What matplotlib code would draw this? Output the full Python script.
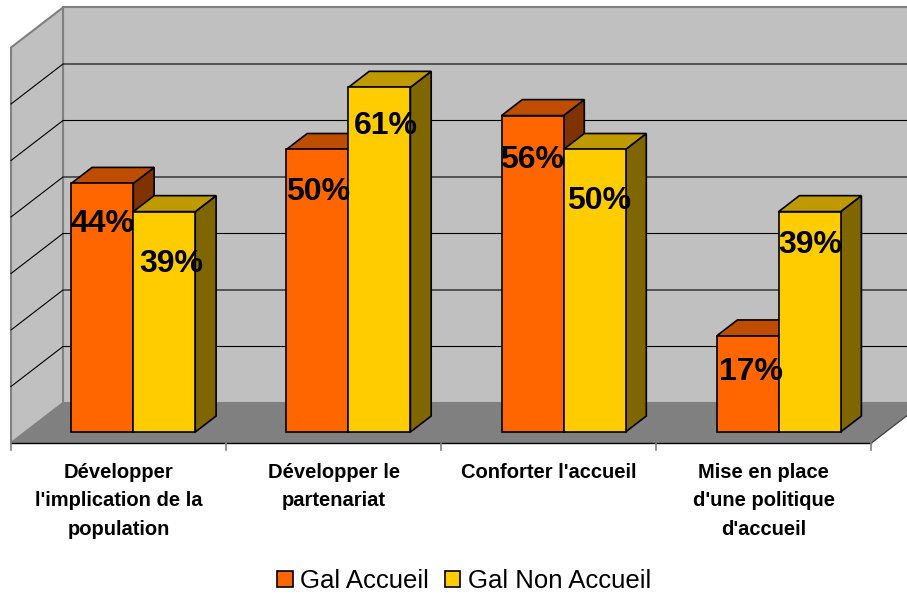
import matplotlib
matplotlib.use('Agg')
import matplotlib.pyplot as plt
from matplotlib.patches import Patch, Polygon

plt.rcParams['font.family'] = ['Liberation Sans', 'DejaVu Sans']

# ── Data ──────────────────────────────────────────────────────────────────────
categories = [
    "Développer\nl'implication de la\npopulation",
    "Développer le\npartenariat",
    "Conforter l'accueil",
    "Mise en place\nd'une politique\nd'accueil",
]
series_names = ['Gal Accueil', 'Gal Non Accueil']
accueil = [44, 50, 56, 17]
non_accueil = [39, 61, 50, 39]
value_ticks = [0, 10, 20, 30, 40, 50, 60, 70]

# ── Styles: (front, top, side) ────────────────────────────────────────────────
ORANGE = ('#FF6600', '#BF4D00', '#803300')
YELLOW = ('#FFCC00', '#BF9900', '#806600')
WALL = '#C0C0C0'
FLOOR = '#808080'

# pixel size of one category and of one percent
CAT_PX = 215.1
PCT_PX = 5.65
# oblique offset of the full depth, in data units
DEPTH_X = 52 / CAT_PX
DEPTH_Y = 40 / PCT_PX
BAR_D0, BAR_D1 = 0.275, 0.675
BAR_START = 46 / CAT_PX
BAR_W = 62 / CAT_PX

# label placement: x shift in categories, y drop in percent
ORANGE_LABEL = [(0.0, 7.1), (0.005, 7.5), (0.0, 7.9), (0.014, 6.4)]
YELLOW_LABEL = [(0.033, 9.2), (0.028, 6.8), (0.021, 9.2), (0.005, 5.9)]


def project(x, v, d):
    return (x + d * DEPTH_X, v + d * DEPTH_Y)


def draw_bar(ax, x0, value, colors):
    x1 = x0 + BAR_W
    front = [project(x0, 0, BAR_D0), project(x1, 0, BAR_D0),
             project(x1, value, BAR_D0), project(x0, value, BAR_D0)]
    top = [project(x0, value, BAR_D0), project(x1, value, BAR_D0),
           project(x1, value, BAR_D1), project(x0, value, BAR_D1)]
    side = [project(x1, 0, BAR_D0), project(x1, 0, BAR_D1),
            project(x1, value, BAR_D1), project(x1, value, BAR_D0)]
    for pts, c in zip((side, top, front), (colors[2], colors[1], colors[0])):
        ax.add_patch(Polygon(pts, closed=True, facecolor=c, edgecolor='black',
                             linewidth=1.2, joinstyle='miter', zorder=4))


fig = plt.figure(figsize=(9.07, 5.95), dpi=100)
ax = fig.add_axes([0, 0, 1, 1])
ax.set_xlim(-11 / CAT_PX, (907 - 11) / CAT_PX)
ax.set_ylim((443 - 595) / PCT_PX, 443 / PCT_PX)
ax.axis('off')

n = len(categories)
vmax = value_ticks[-1]
far = 2 * n  # back wall runs past the right edge, axes clip it

# ── Walls and floor ───────────────────────────────────────────────────────────
ax.add_patch(Polygon([project(0, 0, 1), project(far, 0, 1),
                      project(far, vmax, 1), project(0, vmax, 1)],
                     facecolor=WALL, edgecolor=FLOOR, linewidth=1.5, zorder=1))
ax.add_patch(Polygon([project(0, 0, 0), project(0, 0, 1),
                      project(0, vmax, 1), project(0, vmax, 0)],
                     facecolor=WALL, edgecolor=FLOOR, linewidth=1.5, zorder=1))
ax.add_patch(Polygon([project(0, 0, 0), project(n, 0, 0),
                      project(n, 0, 1), project(far, 0, 1), project(0, 0, 1)],
                     facecolor=FLOOR, edgecolor='none', zorder=2))

# gridlines across both walls
for v in value_ticks[1:-1]:
    p0, p1, p2 = project(0, v, 0), project(0, v, 1), project(far, v, 1)
    ax.plot([p0[0], p1[0], p2[0]], [p0[1], p1[1], p2[1]],
            color='black', linewidth=0.8, zorder=2)

# front edge of floor, right floor edge and ticks
p_end = project(n, 0, 1)
ax.plot([0, n], [0, 0], color='black', linewidth=1.0, zorder=3)
ax.plot([n, p_end[0]], [0, p_end[1]], color='#404040', linewidth=0.9, zorder=3)
for i in range(n + 1):
    ax.plot([i, i], [0, -6.5 / PCT_PX], color=FLOOR, linewidth=1.2, zorder=3)

# ── Bars and labels ───────────────────────────────────────────────────────────
for i in range(n):
    x0 = i + BAR_START
    draw_bar(ax, x0, accueil[i], ORANGE)
    draw_bar(ax, x0 + BAR_W, non_accueil[i], YELLOW)

    for xb, val, (sx, dy) in ((x0, accueil[i], ORANGE_LABEL[i]),
                              (x0 + BAR_W, non_accueil[i], YELLOW_LABEL[i])):
        lx, ly = project(xb + BAR_W / 2 + sx, val - dy, BAR_D0)
        ax.text(lx, ly, f'{val}%', ha='center', va='center', fontsize=23,
                fontweight='bold', color='black', zorder=6)

    ax.text(i + 0.5, -20 / PCT_PX, categories[i], ha='center', va='top',
            fontsize=14.5, fontweight='bold', color='black', linespacing=1.62)

# ── Legend ────────────────────────────────────────────────────────────────────
handles = [Patch(facecolor=ORANGE[0], edgecolor='black', linewidth=1.2),
           Patch(facecolor=YELLOW[0], edgecolor='black', linewidth=1.2)]
ax.legend(handles, series_names, loc='center', bbox_to_anchor=(464 / 907, 1 - 581 / 595),
          ncol=2, frameon=False, fontsize=18.5, handlelength=0.6, handleheight=0.6,
          handletextpad=0.3, columnspacing=0.6, borderpad=0, borderaxespad=0)

fig.savefig('out.png', dpi=100)
plt.close(fig)
